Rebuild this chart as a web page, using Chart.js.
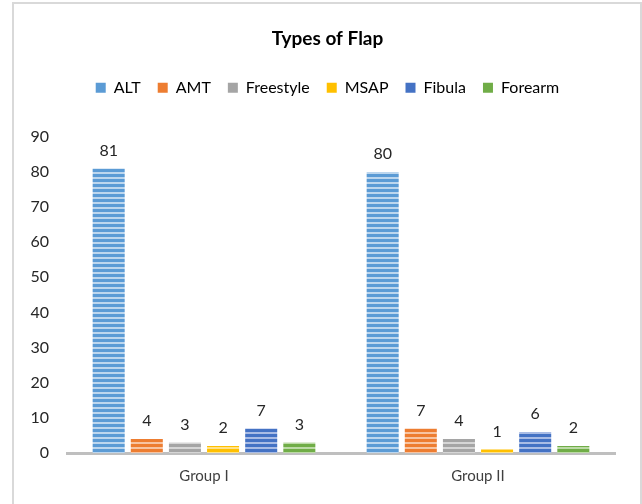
<!DOCTYPE html>
<html>
<head>
<meta charset="utf-8">
<script src="https://cdn.jsdelivr.net/npm/chart.js@4.4.0/dist/chart.umd.min.js"></script>
<style>
  body { margin: 0; background: #fff; }
  #box {
    position: absolute; left: 12px; top: 2px;
    width: 626px; height: 520px;
    border: 2px solid #d9d9d9; background: #fff;
  }
  #wrap { position: absolute; left: 0; top: 0; width: 626px; height: 500px; }
</style>
</head>
<body>
<div id="box"><div id="wrap"><canvas id="chart"></canvas></div></div>
<script>
const groups = ["Group I", "Group II"];
const flapTypes = ["ALT", "AMT", "Freestyle", "MSAP", "Fibula", "Forearm"];
const altVals = [81, 80];
const amtVals = [4, 7];
const freestyleVals = [3, 4];
const msapVals = [2, 1];
const fibulaVals = [7, 6];
const forearmVals = [3, 2];
const yTicks = [0, 10, 20, 30, 40, 50, 60, 70, 80, 90];

const colors = ["#5B9BD5", "#ED7D31", "#A5A5A5", "#FFC000", "#4472C4", "#70AD47"];
const lights = ["#bcd6ee", "#f7c4a2", "#d6d6d6", "#ffe28a", "#a9bce5", "#bcdaa6"];

function stripes(dark, light) {
  const c = document.createElement("canvas");
  c.width = 4; c.height = 5;
  const g = c.getContext("2d");
  g.fillStyle = light; g.fillRect(0, 0, 4, 5);
  g.fillStyle = dark; g.fillRect(0, 0, 4, 3);
  return g.createPattern(c, "repeat");
}

const ctx = document.getElementById("chart").getContext("2d");
const allVals = [altVals, amtVals, freestyleVals, msapVals, fibulaVals, forearmVals];

const valueLabels = {
  id: "valueLabels",
  afterDatasetsDraw(chart) {
    const c = chart.ctx;
    c.save();
    c.font = "16px Lato";
    c.fillStyle = "#262626";
    c.textAlign = "center";
    c.textBaseline = "bottom";
    chart.data.datasets.forEach((ds, i) => {
      chart.getDatasetMeta(i).data.forEach((bar, j) => {
        c.fillText(ds.data[j], bar.x, bar.y - 10);
      });
    });
    c.restore();
  }
};

// legend gets extra room below it, and title + legend sit centred on the whole box
const headerTweak = {
  id: "headerTweak",
  beforeInit(chart) {
    const fit = chart.legend.fit;
    chart.legend.fit = function () {
      fit.bind(chart.legend)();
      this.height += 31;
    };
  },
  afterLayout(chart) {
    [chart.titleBlock, chart.legend].forEach(b => {
      b.left += 13;
      b.right += 13;
    });
  }
};

new Chart(ctx, {
  type: "bar",
  data: {
    labels: groups,
    datasets: flapTypes.map((name, i) => ({
      label: name,
      data: allVals[i],
      backgroundColor: stripes(colors[i], lights[i]),
      borderWidth: 0,
      categoryPercentage: 0.835,
      barPercentage: 0.84
    }))
  },
  options: {
    responsive: true,
    maintainAspectRatio: false,
    animation: false,
    layout: { padding: { top: 19, bottom: 5, right: 25, left: 0 } },
    plugins: {
      title: {
        display: true,
        text: "Types of Flap",
        color: "#000",
        font: { family: "Lato", size: 19, weight: "bold" },
        padding: { top: 4, bottom: 13 }
      },
      legend: {
        display: true,
        labels: {
          color: "#404040",
          font: { family: "Lato", size: 16 },
          boxWidth: 10,
          boxHeight: 10,
          padding: 17,
          generateLabels(chart) {
            return chart.data.datasets.map((ds, i) => ({
              text: ds.label,
              fillStyle: colors[i],
              strokeStyle: colors[i],
              lineWidth: 0,
              datasetIndex: i
            }));
          }
        }
      },
      tooltip: { enabled: false }
    },
    scales: {
      x: {
        grid: { display: false, drawTicks: false },
        border: { display: true, color: "#bfbfbf", width: 3 },
        ticks: { color: "#404040", font: { family: "Lato", size: 15 }, padding: 14 }
      },
      y: {
        min: 0,
        max: 90,
        afterBuildTicks(scale) { scale.ticks = yTicks.map(v => ({ value: v })); },
        afterFit(scale) { scale.width = 53; },
        grid: { display: false, drawTicks: false },
        border: { display: false },
        ticks: { color: "#262626", font: { family: "Lato", size: 16 }, padding: 18 }
      }
    }
  },
  plugins: [valueLabels, headerTweak]
});
</script>
</body>
</html>
